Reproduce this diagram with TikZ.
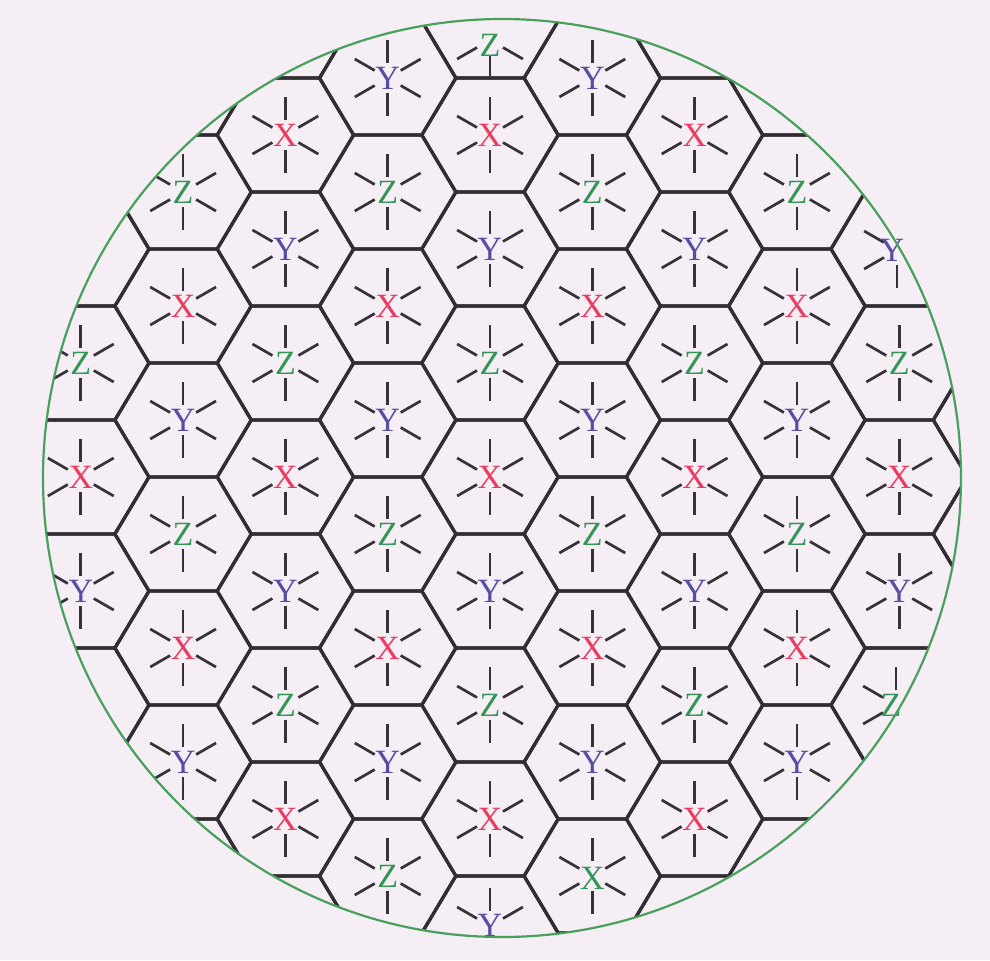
\documentclass[tikz,border=0pt]{standalone}
\usepackage{fontspec}
\setmainfont{Liberation Serif}
\definecolor{bgc}{RGB}{245,238,245}
\definecolor{edgec}{RGB}{50,45,50}
\definecolor{rayc}{RGB}{55,50,57}
\definecolor{ringc}{RGB}{72,160,92}
\definecolor{colX}{RGB}{234,60,94}
\definecolor{colY}{RGB}{86,78,162}
\definecolor{colZ}{RGB}{52,150,86}
\tikzset{
  hexedge/.style={draw=edgec, line width=1.6pt, line join=round},
  raystyle/.style={draw=rayc, line width=1.35pt},
  lbl/.style={font=\fontsize{17}{18}\selectfont, inner sep=0pt},
  ringstyle/.style={draw=ringc, line width=1.1pt}
}
% rays around a point: #1 x, #2 y, #3 list of angles
\newcommand\myrays[3]{\foreach \a in {#3}{\draw[raystyle] (#1,#2) ++(\a:15) -- ++(\a:23);}}
\begin{document}
\begin{tikzpicture}[x=0.5pt,y=-0.5pt]
\useasboundingbox (0,0) rectangle (990,960);
\fill[bgc] (0,0) rectangle (990,960);
\begin{scope}
  \clip (502,478) circle[radius=229.5pt];
  % hexagonal grid
  \foreach \c in {-5,...,5}{
    \foreach \k in {-2,...,9}{
      \pgfmathtruncatemacro\pty{mod(abs(\c),2)}
      \pgfmathsetmacro\cx{490+102.3*\c}
      \pgfmathsetmacro\cy{135+114*\k+57*\pty}
      \draw[hexedge] (\cx+68.2,\cy) -- (\cx+34.1,\cy-57) -- (\cx-34.1,\cy-57)
        -- (\cx-68.2,\cy) -- (\cx-34.1,\cy+57) -- (\cx+34.1,\cy+57) -- cycle;
    }
  }
  % rays of regular cells
  \foreach \c/\kmin/\kmax in {-4/2/4,-3/0/5,-2/0/6,-1/-1/6,0/0/6,1/-1/5,2/0/6,3/0/5,4/2/4}{
    \foreach \k in {\kmin,...,\kmax}{
      \pgfmathtruncatemacro\pty{mod(abs(\c),2)}
      \pgfmathsetmacro\cx{490+102.3*\c}
      \pgfmathsetmacro\cy{135+114*\k+57*\pty}
      \myrays{\cx}{\cy}{90,30,-30,-90,-150,150}
    }
  }
  % rays of special cells
  \myrays{490}{40}{90,30,150}
  \myrays{490}{926}{-90,-30,-150}
  \myrays{592.3}{876}{90,30,-30,-90,-150,150}
  \myrays{897}{250}{90,30,-30,-90,-150,150}
  \myrays{896}{705}{90,30,-30,-90,-150,150}
\end{scope}
% labels of regular cells
\foreach \c/\kmin/\kmax in {-4/2/4,-3/0/5,-2/0/6,-1/-1/6,0/0/6,1/-1/5,2/0/6,3/0/5,4/2/4}{
  \foreach \k in {\kmin,...,\kmax}{
    \pgfmathtruncatemacro\pty{mod(abs(\c),2)}
    \pgfmathsetmacro\cx{490+102.3*\c}
    \pgfmathsetmacro\cy{135+114*\k+57*\pty}
    \pgfmathtruncatemacro\idx{mod(\k+30+2*\pty,3)}
    \ifcase\idx \def\ltr{X}\def\col{colX}\or \def\ltr{Y}\def\col{colY}\or \def\ltr{Z}\def\col{colZ}\fi
    \node[lbl, text=\col] (n\c k\k) at (\cx,\cy) {\ltr};
  }
}
% labels of special cells
\node[lbl, text=colZ] (ntop) at (490,45) {Z};
\node[lbl, text=colY] (nbottom) at (490,925) {Y};
\node[lbl, text=colZ] (ngreenx) at (592.3,878) {X};
\node[lbl, text=colY] (nright1) at (892,250) {Y};
\node[lbl, text=colZ] (nright5) at (891,705) {Z};
% outer circle
\draw[ringstyle] (502,478) circle[radius=229.5pt];
\end{tikzpicture}
\end{document}
